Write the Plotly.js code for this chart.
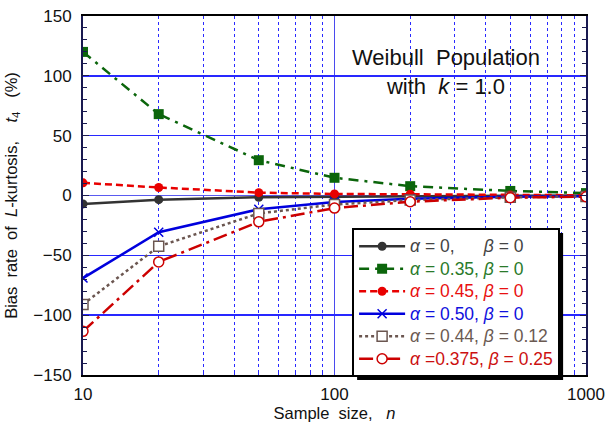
<!DOCTYPE html>
<html>
<head>
<meta charset="utf-8">
<script src="https://cdn.plot.ly/plotly-3.0.1.min.js"></script>
<style>html,body{margin:0;padding:0;background:#fff;}#chart{width:605px;height:425px;}</style>
</head>
<body>
<div id="chart"></div>
<script>
const sampleSizes = [10, 20, 50, 100, 200, 500, 1000];
const bias_a0_b0 = [-7, -3.5, -1.5, -1, -0.5, -0.2, 0];
const bias_a035_b0 = [120, 68, 29.5, 14.8, 7.8, 3.8, 2.0];
const bias_a045_b0 = [10.6, 6.7, 2.4, 1.3, 1.0, 0.4, 0.2];
const bias_a050_b0 = [-69, -30.7, -11.5, -5.5, -2.8, -1.1, -0.6];
const bias_a044_b012 = [-91, -42.5, -15, -7.5, -3.8, -1.5, -0.8];
const bias_a0375_b025 = [-113.5, -55.5, -22, -10.5, -5.2, -1.8, -1.0];
const seriesNames = [
  '<i>α</i> = 0,\u00a0\u00a0\u00a0\u00a0\u00a0 <i>β</i> = 0',
  '<i>α</i> = 0.35, <i>β</i> = 0',
  '<i>α</i> = 0.45, <i>β</i> = 0',
  '<i>α</i> = 0.50, <i>β</i> = 0',
  '<i>α</i> = 0.44, <i>β</i> = 0.12',
  '<i>α</i> =0.375, <i>β</i> = 0.25'
];
const xTickVals = [10, 100, 1000];
const xTickText = ['10', '100', '1000'];
const xMinorVals = [20,30,40,50,60,70,80,90,200,300,400,500,600,700,800,900];

const colors = ['#333333', '#0b650b', '#e80000', '#0000dd', '#6b5650', '#cc0000'];
const legendColors = ['#444444', '#2a7a2a', '#e81010', '#1010dd', '#6b5a52', '#cc1010'];

function nm(i){ return '<span style="color:' + legendColors[i] + ';font-size:17.5px">' + seriesNames[i] + '</span>'; }

const traces = [
  {x: sampleSizes, y: bias_a0_b0, name: nm(0), mode: 'lines+markers',
   line: {color: colors[0], width: 2.5, dash: 'solid'},
   marker: {symbol: 'circle', size: 9, color: colors[0]}},
  {x: sampleSizes, y: bias_a035_b0, name: nm(1), mode: 'lines+markers',
   line: {color: colors[1], width: 2.5, dash: '10px,6px,3px,6px'},
   marker: {symbol: 'square', size: 10, color: colors[1]}},
  {x: sampleSizes, y: bias_a045_b0, name: nm(2), mode: 'lines+markers',
   line: {color: colors[2], width: 2.5, dash: '7px,4px'},
   marker: {symbol: 'circle', size: 9, color: colors[2]}},
  {x: sampleSizes, y: bias_a050_b0, name: nm(3), mode: 'lines+markers',
   line: {color: colors[3], width: 2.5, dash: 'solid'},
   marker: {symbol: 'x-thin', size: 9, line: {color: colors[3], width: 1.5}, color: colors[3]}},
  {x: sampleSizes, y: bias_a044_b012, name: nm(4), mode: 'lines+markers',
   line: {color: colors[4], width: 2.5, dash: 'dot'},
   marker: {symbol: 'square', size: 10, color: '#ffffff', line: {color: colors[4], width: 1.5}}},
  {x: sampleSizes, y: bias_a0375_b025, name: nm(5), mode: 'lines+markers',
   line: {color: colors[5], width: 2.5, dash: '14px,5px,3px,5px'},
   marker: {symbol: 'circle', size: 10, color: '#ffffff', line: {color: colors[5], width: 1.5}}}
];

const fam = 'Liberation Sans, Arial, sans-serif';
const sp = '\u00a0';

const layout = {
  width: 605, height: 425,
  margin: {l: 83, r: 19, t: 16, b: 50},
  paper_bgcolor: '#ffffff', plot_bgcolor: '#ffffff',
  font: {size: 17, family: fam, color: '#111111'},
  showlegend: true,
  xaxis: {
    type: 'log', range: [1, 3],
    tickmode: 'array', tickvals: xTickVals, ticktext: xTickText,
    showgrid: true, gridcolor: '#4a4aee', gridwidth: 1.5,
    ticks: '', showline: true, linecolor: '#000000', linewidth: 2, mirror: true,
    ticklabelstandoff: 3,
    minor: {tickmode: 'array', tickvals: xMinorVals, showgrid: true, gridcolor: '#2a2aff', griddash: 'dot', gridwidth: 1, ticks: 'inside', ticklen: 4, tickcolor: '#2a2aff'},
    tickfont: {size: 17},
    title: {text: 'Sample' + sp + sp + 'size,' + sp + sp + sp + '<i>n</i>', font: {size: 16.5}, standoff: 0},
    zeroline: false
  },
  yaxis: {
    range: [-150, 150], tickmode: 'linear', tick0: -150, dtick: 50,
    showgrid: true, gridcolor: 'rgb(40,40,255)', gridwidth: 1.5,
    zeroline: true, zerolinecolor: 'rgb(90,90,240)', zerolinewidth: 1.5,
    ticks: 'inside', ticklen: 6, tickcolor: '#1a1a50',
    showline: true, linecolor: '#1a1a50', linewidth: 2, mirror: 'ticks',
    ticklabelstandoff: 6,
    minor: {dtick: 10, ticks: 'inside', ticklen: 4, tickcolor: '#1a1a50'},
    tickfont: {size: 17},
    title: {text: 'Bias' + sp + sp + 'rate' + sp + sp + 'of' + sp + sp + '<i>L</i>-kurtosis,' + sp + sp + sp + sp + '<i>t</i><sub>4</sub>' + sp + sp + sp + '(%)', font: {size: 16.5}, standoff: 12}
  },
  legend: {
    x: 0.535, y: 0.4095, xanchor: 'left', yanchor: 'top',
    bgcolor: '#ffffff', bordercolor: '#000000', borderwidth: 2,
    font: {size: 15, family: fam},
    tracegroupgap: 0, itemwidth: 46
  },
  shapes: [{
    type: 'rect', xref: 'paper', yref: 'paper', x0: 0.511, x1: 0.996, y0: 0.772, y1: 0.928,
    fillcolor: '#ffffff', line: {width: 0}, layer: 'between'
  }],
  annotations: [{
    xref: 'paper', yref: 'paper', x: 0.722, y: 0.845, xanchor: 'center', yanchor: 'middle',
    text: 'Weibull' + sp + sp + 'Population<br>with' + sp + sp + '<i>k</i> = 1.0', showarrow: false,
    font: {size: 22, color: '#111111', family: fam}, align: 'center'
  }]
};

function addShadow(){
  try {
    const gd = document.getElementById('chart');
    const lg = gd.querySelector('g.legend');
    const bg = lg && lg.querySelector('rect.bg');
    if (!bg || lg.querySelector('rect.shadowbox')) return;
    const ns = 'http://www.w3.org/2000/svg';
    const r = document.createElementNS(ns, 'rect');
    const x = parseFloat(bg.getAttribute('x') || 0), y = parseFloat(bg.getAttribute('y') || 0);
    const w = parseFloat(bg.getAttribute('width')), h = parseFloat(bg.getAttribute('height'));
    r.setAttribute('class', 'shadowbox');
    r.setAttribute('x', x + 4); r.setAttribute('y', y + 4);
    r.setAttribute('width', w); r.setAttribute('height', h);
    r.setAttribute('style', 'fill:#000000;stroke:none');
    const tr = bg.getAttribute('transform');
    if (tr) r.setAttribute('transform', tr);
    bg.parentNode.insertBefore(r, bg);
  } catch (e) { console.error(e); }
}

const p = Plotly.newPlot('chart', traces, layout, {displayModeBar: false, staticPlot: true});
addShadow();
p.then(addShadow);
setTimeout(addShadow, 0);
setTimeout(addShadow, 200);
</script>
</body>
</html>
